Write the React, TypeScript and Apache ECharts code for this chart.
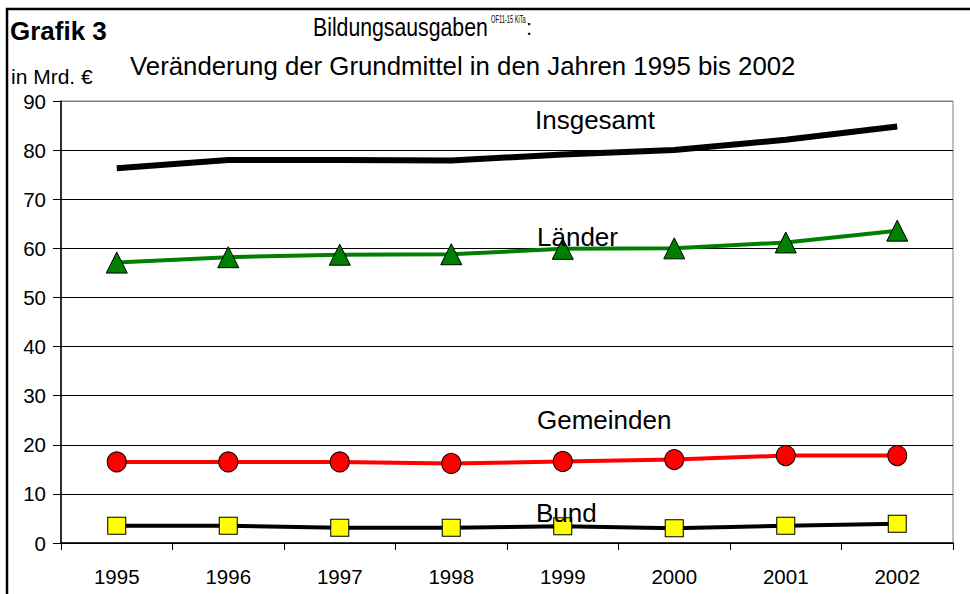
import React, { useEffect, useRef } from "react";
import * as echarts from "echarts";

const years = ["1995", "1996", "1997", "1998", "1999", "2000", "2001", "2002"];
const insgesamt = [76.3, 78.0, 78.0, 77.9, 79.1, 80.0, 82.1, 84.8];
const laender = [57.1, 58.2, 58.7, 58.8, 59.9, 60.0, 61.2, 63.6];
const gemeinden = [16.5, 16.5, 16.5, 16.2, 16.6, 17.0, 17.8, 17.8];
const bund = [3.5, 3.5, 3.1, 3.1, 3.4, 3.0, 3.5, 3.9];

const FONT = "'Liberation Sans', Arial, sans-serif";

export default function App() {
  const ref = useRef<HTMLDivElement>(null);
  useEffect(() => {
    if (!ref.current) return;
    const chart = echarts.init(ref.current, null, { renderer: "svg" });
    const splitColors = Array.from({ length: 10 }, (_, i) => (i === 9 ? "#808080" : "#000000"));
    chart.setOption({
      animation: false,
      backgroundColor: "#ffffff",
      textStyle: { fontFamily: FONT, color: "#000" },
      grid: {
        left: 61,
        top: 101,
        right: 17,
        bottom: 51,
        show: true,
        borderColor: "#808080",
        borderWidth: 1,
        backgroundColor: "transparent",
      },
      xAxis: {
        type: "category",
        data: years,
        boundaryGap: true,
        axisLine: { show: true, lineStyle: { color: "#000", width: 1.5 } },
        axisTick: { show: true, length: 7, alignWithLabel: false, lineStyle: { color: "#000", width: 1 } },
        axisLabel: { fontSize: 20.5, color: "#000", fontFamily: FONT, margin: 23 },
        splitLine: { show: false },
      },
      yAxis: {
        type: "value",
        min: 0,
        max: 90,
        interval: 10,
        axisLine: { show: true, lineStyle: { color: "#000", width: 1.5 } },
        axisTick: { show: true, length: 8, lineStyle: { color: "#000", width: 1 } },
        axisLabel: { fontSize: 20.5, color: "#000", fontFamily: FONT, margin: 15 },
        splitLine: { show: true, lineStyle: { color: splitColors, width: 1 } },
      },
      series: [
        {
          name: "Insgesamt",
          type: "line",
          data: insgesamt,
          showSymbol: false,
          symbol: "none",
          lineStyle: { color: "#000", width: 6 },
          z: 3,
        },
        {
          name: "Länder",
          type: "line",
          data: laender,
          symbol: "triangle",
          symbolSize: [21, 21],
          lineStyle: { color: "#008000", width: 4 },
          itemStyle: { color: "#008000", borderColor: "#000", borderWidth: 1 },
          z: 3,
        },
        {
          name: "Gemeinden",
          type: "line",
          data: gemeinden,
          symbol: "circle",
          symbolSize: [19, 20],
          lineStyle: { color: "#ff0000", width: 4 },
          itemStyle: { color: "#ff0000", borderColor: "#000", borderWidth: 1 },
          z: 3,
        },
        {
          name: "Bund",
          type: "line",
          data: bund,
          symbol: "rect",
          symbolSize: [18, 17],
          lineStyle: { color: "#000", width: 4 },
          itemStyle: { color: "#ffff00", borderColor: "#000", borderWidth: 1 },
          z: 3,
        },
      ],
      graphic: [
        {
          type: "rect",
          shape: { x: 7, y: 9, width: 1000, height: 1000 },
          style: { fill: "none", stroke: "#000", lineWidth: 2.5 },
          silent: true,
          z: 100,
        },
        {
          type: "text",
          x: 10,
          y: 31,
          style: { text: "Grafik 3", font: `bold 26px ${FONT}`, fill: "#000", verticalAlign: "middle", align: "left" },
        },
        {
          type: "text",
          x: 313,
          y: 27,
          scaleX: 0.85,
          style: { text: "Bildungsausgaben", font: `25px ${FONT}`, fill: "#000", verticalAlign: "middle", align: "left" },
        },
        {
          type: "text",
          x: 491,
          y: 19,
          scaleX: 0.52,
          style: { text: "OF11-15 KiTa", font: `11px ${FONT}`, fill: "#000", verticalAlign: "middle", align: "left" },
        },
        {
          type: "text",
          x: 526,
          y: 27,
          style: { text: ":", font: `22px ${FONT}`, fill: "#000", verticalAlign: "middle", align: "left" },
        },
        {
          type: "text",
          x: 130,
          y: 66,
          style: { text: "Veränderung der Grundmittel in den Jahren 1995 bis 2002", font: `25.8px ${FONT}`, fill: "#000", verticalAlign: "middle", align: "left" },
        },
        {
          type: "text",
          x: 11,
          y: 76,
          style: { text: "in Mrd. €", font: `21px ${FONT}`, fill: "#000", verticalAlign: "middle", align: "left" },
        },
        {
          type: "text",
          x: 535,
          y: 120,
          style: { text: "Insgesamt", font: `26px ${FONT}`, fill: "#000", verticalAlign: "middle", align: "left" },
          z: 50,
        },
        {
          type: "text",
          x: 537,
          y: 237,
          style: { text: "Länder", font: `26px ${FONT}`, fill: "#000", verticalAlign: "middle", align: "left" },
          z: 50,
        },
        {
          type: "text",
          x: 537,
          y: 420,
          style: { text: "Gemeinden", font: `26px ${FONT}`, fill: "#000", verticalAlign: "middle", align: "left" },
          z: 50,
        },
        {
          type: "text",
          x: 536,
          y: 513,
          style: { text: "Bund", font: `26px ${FONT}`, fill: "#000", verticalAlign: "middle", align: "left" },
          z: 50,
        },
      ],
    });
    return () => chart.dispose();
  }, []);
  return (
    <div
      ref={ref}
      style={{ position: "fixed", left: 0, top: 0, width: 970, height: 594, background: "#fff" }}
    />
  );
}
